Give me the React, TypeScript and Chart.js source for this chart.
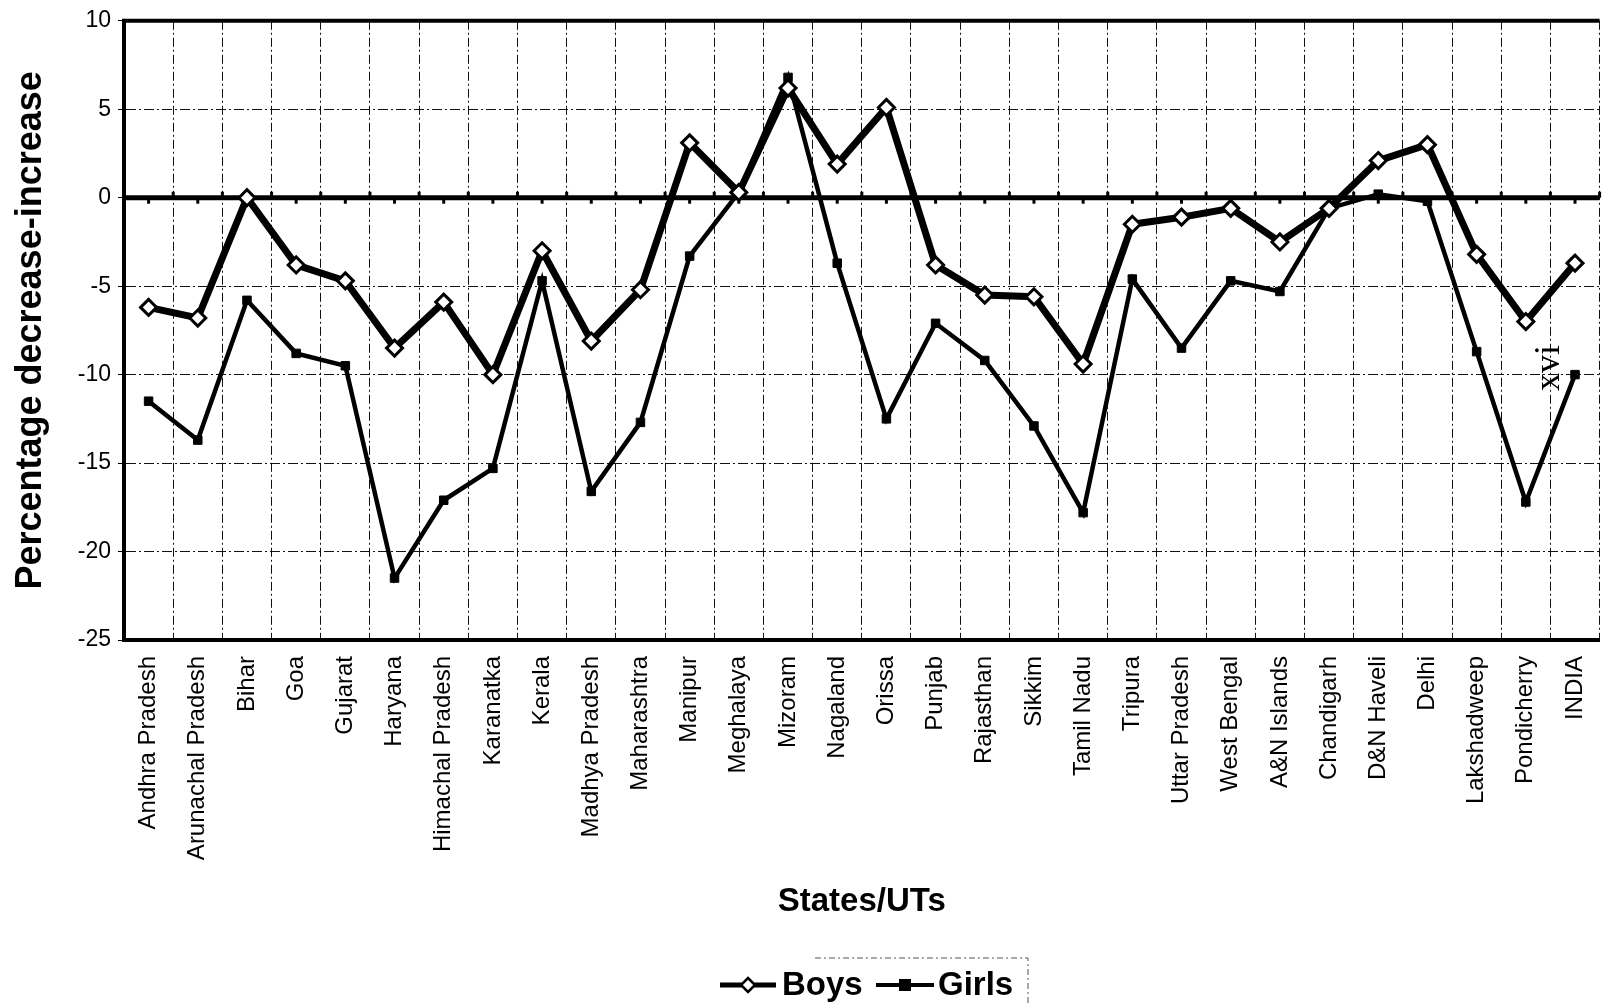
import React, { useEffect, useRef } from "react";
import { Chart, registerables } from "chart.js";

Chart.register(...registerables);

const categories = [
  "Andhra Pradesh", "Arunachal Pradesh", "Bihar", "Goa", "Gujarat", "Haryana",
  "Himachal Pradesh", "Karanatka", "Kerala", "Madhya Pradesh", "Maharashtra",
  "Manipur", "Meghalaya", "Mizoram", "Nagaland", "Orissa", "Punjab", "Rajasthan",
  "Sikkim", "Tamil Nadu", "Tripura", "Uttar Pradesh", "West Bengal", "A&N Islands",
  "Chandigarh", "D&N Haveli", "Delhi", "Lakshadweep", "Pondicherry", "INDIA",
];

const boys = [
  -6.2, -6.8, 0.0, -3.8, -4.7, -8.5, -5.9, -10.0, -3.0, -8.1, -5.2, 3.1, 0.3, 6.2, 1.9,
  5.1, -3.8, -5.5, -5.6, -9.4, -1.5, -1.1, -0.6, -2.5, -0.6, 2.1, 3.0, -3.2, -7.0, -3.7,
];

const girls = [
  -11.5, -13.7, -5.8, -8.8, -9.5, -21.5, -17.1, -15.3, -4.7, -16.6, -12.7, -3.3, 0.3, 6.8, -3.7,
  -12.5, -7.1, -9.2, -12.9, -17.8, -4.6, -8.5, -4.7, -5.3, -0.6, 0.2, -0.2, -8.7, -17.2, -10.0,
];

const yTicks = [-25, -20, -15, -10, -5, 0, 5, 10];
const seriesNames = ["Boys", "Girls"];
const yTitle = "Percentage decrease-increase";
const xTitle = "States/UTs";
const pageMark = "xvi";

const FONT = "'Liberation Sans', Arial, sans-serif";

const decorPlugin = {
  id: "decor",
  beforeDatasetsDraw(chart: any) {
    const { ctx, chartArea, scales } = chart;
    const y0 = scales.y.getPixelForValue(0);
    const x = scales.x;
    const step = x.getPixelForValue(1) - x.getPixelForValue(0);
    ctx.save();
    ctx.strokeStyle = "#000";
    ctx.lineWidth = 5;
    ctx.beginPath();
    ctx.moveTo(chartArea.left, y0);
    ctx.lineTo(chartArea.right, y0);
    ctx.stroke();
    ctx.lineWidth = 3;
    for (let i = 0; i < categories.length; i++) {
      const cx = x.getPixelForValue(i);
      const bx = cx + step / 2;
      ctx.beginPath();
      ctx.moveTo(cx, y0);
      ctx.lineTo(cx, y0 + 6);
      ctx.stroke();
      ctx.beginPath();
      ctx.moveTo(bx, y0);
      ctx.lineTo(bx, y0 - 6);
      ctx.stroke();
    }
    ctx.lineWidth = 4;
    ctx.beginPath();
    ctx.moveTo(chartArea.left - 2, chartArea.top);
    ctx.lineTo(chartArea.right, chartArea.top);
    ctx.stroke();
    ctx.restore();
  },
  afterDraw(chart: any) {
    const { ctx } = chart;
    ctx.save();
    const ly = 985;
    ctx.strokeStyle = "#000";
    ctx.lineWidth = 5;
    ctx.beginPath();
    ctx.moveTo(720, ly);
    ctx.lineTo(776, ly);
    ctx.stroke();
    ctx.beginPath();
    ctx.moveTo(748, ly - 7);
    ctx.lineTo(755, ly);
    ctx.lineTo(748, ly + 7);
    ctx.lineTo(741, ly);
    ctx.closePath();
    ctx.fillStyle = "#fff";
    ctx.fill();
    ctx.lineWidth = 2.5;
    ctx.stroke();
    ctx.lineWidth = 4;
    ctx.beginPath();
    ctx.moveTo(876, ly);
    ctx.lineTo(934, ly);
    ctx.stroke();
    ctx.fillStyle = "#000";
    ctx.fillRect(899, ly - 6, 12, 12);
    ctx.font = `bold 33px ${FONT}`;
    ctx.textBaseline = "middle";
    ctx.textAlign = "left";
    ctx.fillText(seriesNames[0], 782, ly + 1);
    ctx.fillText(seriesNames[1], 938, ly + 1);
    ctx.strokeStyle = "#555";
    ctx.lineWidth = 1;
    ctx.setLineDash([6, 3, 2, 3]);
    ctx.beginPath();
    ctx.moveTo(815, 958);
    ctx.lineTo(1028, 958);
    ctx.lineTo(1028, 1006);
    ctx.stroke();
    ctx.setLineDash([]);
    ctx.translate(1550, 368);
    ctx.rotate(-Math.PI / 2);
    ctx.font = `36px 'Liberation Serif', serif`;
    ctx.textAlign = "center";
    ctx.textBaseline = "middle";
    ctx.fillStyle = "#000";
    ctx.fillText(pageMark, 0, 0);
    ctx.restore();
  },
};

export default function App() {
  const ref = useRef<HTMLCanvasElement | null>(null);

  useEffect(() => {
    document.body.style.margin = "0";
    document.body.style.overflow = "hidden";
    const canvas = ref.current;
    if (!canvas) return;
    const chart = new Chart(canvas, {
      type: "line",
      data: {
        labels: categories,
        datasets: [
          {
            label: seriesNames[0],
            data: boys,
            borderColor: "#000",
            borderWidth: 7,
            tension: 0,
            pointStyle: "rectRot",
            pointRadius: 8,
            pointBackgroundColor: "#fff",
            pointBorderColor: "#000",
            pointBorderWidth: 3,
          },
          {
            label: seriesNames[1],
            data: girls,
            borderColor: "#000",
            borderWidth: 4.5,
            tension: 0,
            pointStyle: "rect",
            pointRadius: 6,
            pointBackgroundColor: "#000",
            pointBorderColor: "#000",
            pointBorderWidth: 1,
          },
        ],
      },
      options: {
        responsive: false,
        animation: false,
        devicePixelRatio: 1,
        layout: { padding: { top: 18, left: 0, right: 8, bottom: 70 } },
        plugins: {
          legend: { display: false },
          tooltip: { enabled: false },
        },
        scales: {
          x: {
            type: "category",
            offset: true,
            grid: {
              display: true,
              offset: true,
              drawTicks: false,
              color: "#111",
              lineWidth: 1,
            },
            border: { display: true, color: "#000", width: 4, dash: [9, 3, 2, 3] },
            ticks: {
              autoSkip: false,
              maxRotation: 90,
              minRotation: 90,
              padding: 16,
              color: "#000",
              font: { family: FONT, size: 24 },
            },
            title: {
              display: true,
              text: xTitle,
              color: "#000",
              font: { family: FONT, size: 33, weight: "bold" },
              padding: { top: 0, bottom: 14 },
            },
            afterFit: (scale: any) => {
              scale.height = 296;
            },
          },
          y: {
            min: -25,
            max: 10,
            afterBuildTicks: (scale: any) => {
              scale.ticks = yTicks.map((v) => ({ value: v }));
            },
            grid: {
              color: (c: any) => (c.tick && (c.tick.value === 0 || c.tick.value === 10 || c.tick.value === -25) ? "rgba(0,0,0,0)" : "#111"),
              lineWidth: 1,
              drawTicks: true,
              tickLength: 6,
              tickColor: "#000",
            },
            border: { display: true, color: "#000", width: 4, dash: [10, 3, 2, 3] },
            ticks: {
              padding: 7,
              color: "#000",
              font: { family: FONT, size: 23 },
            },
            title: {
              display: true,
              text: yTitle,
              color: "#000",
              font: { family: FONT, size: 36, weight: "bold" },
              padding: { top: 9, bottom: 0 },
            },
            afterFit: (scale: any) => {
              scale.width = 124;
            },
          },
        },
      },
      plugins: [decorPlugin],
    } as any);
    return () => chart.destroy();
  }, []);

  return (
    <div style={{ width: 1611, height: 1006, overflow: "hidden", position: "relative", background: "#fff" }}>
      <canvas ref={ref} width={1620} height={1006} style={{ width: 1620, height: 1006, display: "block" }} />
    </div>
  );
}
